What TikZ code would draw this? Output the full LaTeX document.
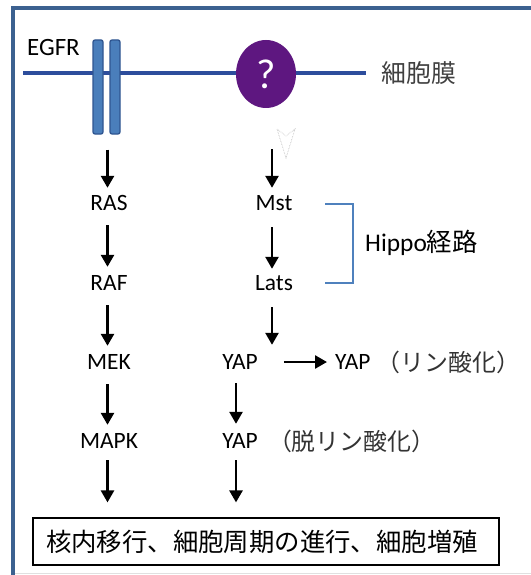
\documentclass[tikz,border=0pt]{standalone}
\usepackage{fontspec}
\setmainfont{Carlito}
\newfontfamily\jp{Noto Sans CJK JP}
\usetikzlibrary{arrows.meta,shapes.geometric,calc}
\definecolor{frameblue}{HTML}{3C6190}
\definecolor{membblue}{HTML}{2D4D9C}
\definecolor{barfill}{HTML}{4A7EBB}
\definecolor{barline}{HTML}{2F5590}
\definecolor{qpurple}{HTML}{5E1780}
\definecolor{brblue}{HTML}{4F81BD}
\begin{document}
\begin{tikzpicture}[x=1bp,y=-1bp,
  lab/.style={inner sep=0pt, minimum height=24bp, font=\fontsize{23.5}{27}\selectfont},
  jplab/.style={inner sep=0pt, minimum height=24bp, text=black!80, font=\jp\fontsize{24}{28}\selectfont},
  arr/.style={-{Triangle[width=13bp,length=12bp]}, line width=2.6bp, shorten <=10bp, shorten >=4bp},
  bar/.style={draw=barline, fill=barfill, line width=1.3bp, rounded corners=2bp, minimum width=10bp, minimum height=94bp, inner sep=0pt},
  memb/.style={draw=membblue, line width=3.5bp},
  bracketline/.style={draw=brblue, line width=1.5bp}]
\useasboundingbox (0,0) rectangle (531,575);
% frame
\draw[frameblue, line width=3.5bp, line join=miter] (531,8) -- (13,8) -- (13,576);
\draw[black!12, line width=1bp] (15,573.5) -- (531,573.5);
% membrane
\draw[memb] (23,73) -- (366,73);
\node[bar] (bar1) at (98,87) {};
\node[bar] (bar2) at (115,87) {};
\node[anchor=west, inner sep=0pt, font=\fontsize{25}{28}\selectfont] (egfr) at (27,48) {EGFR};
\node[ellipse, fill=qpurple, minimum width=60bp, minimum height=68bp, inner sep=0pt,
      text=white, font=\fontsize{42}{44}\selectfont] (q) at (266,74) {?};
\node[anchor=west, inner sep=0pt, text=black!75, font=\jp\fontsize{25}{30}\selectfont] (memtxt) at (381,73) {細胞膜};
% faint arrowhead outline
\draw[black!30, line width=0.6bp, densely dotted] (277,129) -- (286,158) -- (295,129) -- (286,136) -- cycle;
% labels
\node[lab] (ras) at (109,203) {RAS};
\node[lab] (raf) at (109,283) {RAF};
\node[lab] (mek) at (109,362) {MEK};
\node[lab] (mapk) at (109,441) {MAPK};
\node[lab] (mst) at (274,203) {Mst};
\node[lab] (lats) at (274,283) {Lats};
\node[lab] (yapa) at (240,362) {YAP};
\node[lab] (yapb) at (240,441) {YAP};
\node[lab, anchor=west] (yapp) at (335,362) {YAP};
\node[jplab, anchor=west] (pho) at ([xshift=6bp]yapp.east) {（リン酸化）};
\node[jplab, anchor=west] (dep) at ([xshift=10bp]yapb.east) {（脱リン酸化）};
\node[anchor=west, inner sep=0pt, font=\fontsize{25.5}{30}\selectfont] (hippo) at (365,243) {Hippo{\jp 経路}};
\node[draw, line width=1.2bp, minimum width=466bp, minimum height=47bp, inner sep=0pt,
      font=\jp\fontsize{25.5}{30}\selectfont] (box) at (266,541.5) {\hspace*{-8bp}核内移行、細胞周期の進行、細胞増殖};
% bracket
\draw[bracketline] (325,204) -- (353,204) -- (353,283) -- (325,283);
% arrows left
\draw[arr, shorten <=15bp, shorten >=3bp] ([xshift=-1.5bp]ras.north |- bar1.south) -- ([xshift=-1.5bp]ras.north);
\draw[arr] ([xshift=-1.5bp]ras.south) -- ([xshift=-1.5bp]raf.north);
\draw[arr] ([xshift=-1.5bp]raf.south) -- ([xshift=-1.5bp]mek.north);
\draw[arr] ([xshift=-1.5bp]mek.south) -- ([xshift=-1.5bp]mapk.north);
\draw[arr, shorten <=7bp, shorten >=15bp] ([xshift=-1.5bp]mapk.south) -- ([xshift=-1.5bp]mapk.south |- box.north);
% arrows right
\draw[arr, shorten <=41bp, shorten >=3bp] ([xshift=-2bp]mst.north |- q.south) -- ([xshift=-2bp]mst.north);
\draw[arr, shorten <=12bp, shorten >=2bp] ([xshift=-2bp]mst.south) -- ([xshift=-2bp]lats.north);
\draw[arr, shorten <=12bp, shorten >=5bp] ([xshift=-2bp]lats.south) -- ([xshift=-2bp]lats.south |- yapa.north);
\draw[arr, shorten <=9bp, shorten >=5bp] ([xshift=-4bp]yapa.south) -- ([xshift=-4bp]yapb.north);
\draw[arr, shorten <=7bp, shorten >=15bp] ([xshift=-4bp]yapb.south) -- ([xshift=-4bp]yapb.south |- box.north);
\draw[arr, shorten <=26bp, shorten >=8bp] (yapa.east) -- (yapp.west);
\end{tikzpicture}
\end{document}
